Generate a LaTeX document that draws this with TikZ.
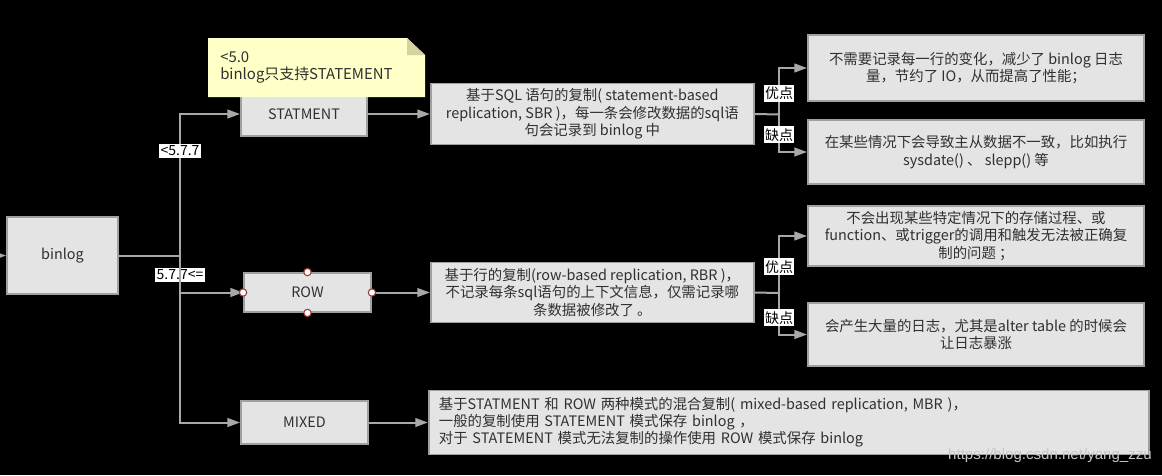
\documentclass[tikz,border=0pt]{standalone}
\usepackage{fontspec}
\setmainfont{Noto Sans CJK SC}
\newfontfamily\markfont{Liberation Sans}
\usetikzlibrary{arrows.meta,positioning}
\definecolor{boxfill}{HTML}{E4E4E4}
\definecolor{boxline}{HTML}{A0A0A0}
\definecolor{linegray}{HTML}{A8A8A8}
\definecolor{textdark}{HTML}{303030}
\definecolor{notefill}{HTML}{FFFFC8}
\definecolor{notefold}{HTML}{D6D3A0}
\definecolor{handlered}{HTML}{A03838}
\definecolor{markgray}{HTML}{C8C8C8}

\begin{document}
\begin{tikzpicture}[x=0.75pt, y=-0.75pt,
    box/.style={draw=boxline, fill=boxfill, line width=1.4pt, text=textdark, align=center, inner sep=0pt, font=\fontsize{10.8}{13}\selectfont},
    tag/.style={fill=white, text=black, inner xsep=1pt, inner ysep=1.5pt, font=\fontsize{10.5}{12}\selectfont},
    handle/.style={circle, draw=handlered, fill=white, line width=0.8pt, minimum size=5.5pt, inner sep=0pt},
    line/.style={draw=linegray, line width=1.5pt},
    arrow/.style={line, -{Triangle[length=9.5pt, width=6.5pt]}}]
    \useasboundingbox (0,0) rectangle (1162,475);
    \fill [black] (0,0) rectangle (1162,475);

    \node [box, minimum width=83.25pt, minimum height=57.75pt] (binlog) at (62.5,255.5) {binlog};
    \node [box, minimum width=94.5pt, minimum height=33pt] (statment) at (304,114) {STATMENT};
    \node [box, minimum width=95.25pt, minimum height=29.25pt] (rowbox) at (307.5,292.5) {ROW};
    \node [box, minimum width=95.25pt, minimum height=32.25pt] (mixed) at (304.5,422.5) {MIXED};

    \node [box, minimum width=242.25pt, minimum height=45.75pt, right=46.5pt of statment] (sbr) {基于SQL 语句的复制( statement-based\\replication, SBR )，每一条会修改数据的sql语\\句会记录到 binlog 中};
    \node [box, minimum width=242.25pt, minimum height=45pt, right=43.5pt of rowbox] (rbr) {基于行的复制(row-based replication, RBR )，\\不记录每条sql语句的上下文信息，仅需记录哪\\条数据被修改了 。};
    \node [box, text width=525pt, inner xsep=7.5pt, minimum height=48pt, align=left, font=\fontsize{10.8}{12.75}\selectfont, right=44.25pt of mixed] (mbr) {基于STATMENT 和 ROW 两种模式的混合复制( mixed-based replication, MBR )，\\一般的复制使用 STATEMENT 模式保存 binlog ，\\对于 STATEMENT 模式无法复制的操作使用 ROW 模式保存 binlog};

    \node [box, minimum width=252pt, minimum height=49.5pt] (spro) at (976,68) {不需要记录每一行的变化，减少了 binlog 日志\\量，节约了 IO，从而提高了性能；};
    \node [box, minimum width=252pt, minimum height=48pt] (scon) at (976,152) {在某些情况下会导致主从数据不一致，比如执行\\sysdate() 、 slepp() 等};
    \node [box, minimum width=252pt, minimum height=45pt] (rpro) at (976,236) {不会出现某些特定情况下的存储过程、或\\function、或trigger的调用和触发无法被正确复\\制的问题 ；};
    \node [box, minimum width=252pt, minimum height=47.25pt] (rcon) at (976,334.5) {会产生大量的日志，尤其是alter table 的时候会\\让日志暴涨};

    \coordinate (src) at (-30,256);
    \coordinate (trunk) at (180,255.5);
    \coordinate (sfork) at (779,114.5);
    \coordinate (rfork) at (779,293);

    \draw [arrow] (src) -- (binlog.west);
    \draw [line] (binlog.east) -- (trunk);
    \draw [arrow] (trunk) |- (statment.west) node [tag, pos=0.37] (old) {<5.7.7};
    \draw [arrow] (trunk) |- (rowbox.west) node [tag, pos=0.26] (new) {5.7.7<=};
    \draw [arrow] (trunk) |- (mixed.west);

    \draw [arrow] (statment) -- (sbr);
    \draw [arrow] (rowbox) -- (rbr);
    \draw [arrow] (mixed) -- (mbr);

    \draw [line] (sbr.east) -- (sfork);
    \draw [arrow] (sfork) |- (spro.west) node [tag, pos=0.23] (sgood) {优点};
    \draw [arrow] (sfork) |- (scon.west) node [tag, pos=0.27] (sbad) {缺点};
    \draw [line] (rbr.east) -- (rfork);
    \draw [arrow] (rfork) |- (rpro.west) node [tag, pos=0.23] (rgood) {优点};
    \draw [arrow] (rfork) |- (rcon.west) node [tag, pos=0.30] (rbad) {缺点};

    \node [handle] (hn) at (rowbox.north) {};
    \node [handle] (hs) at (rowbox.south) {};
    \node [handle] (he) at (rowbox.east) {};
    \node [handle] (hw) at (rowbox.west) {};

    \fill [notefill] (208,38) -- (407,38) -- (425,55) -- (425,97) -- (208,97) -- cycle;
    \fill [notefold] (407,38) -- (425,55) -- (407,55) -- cycle;
    \node [anchor=west, align=left, inner sep=0pt, text=textdark, font=\fontsize{11.2}{12.75}\selectfont] (note) at (220,67.5) {<5.0\\binlog只支持STATEMENT};

    \node [anchor=east, inner sep=0pt, text=markgray, font=\markfont\fontsize{11.3}{13}\selectfont] (mark) at (1152,456) {https://blog.csdn.net/yang\_zzu};
\end{tikzpicture}
\end{document}
